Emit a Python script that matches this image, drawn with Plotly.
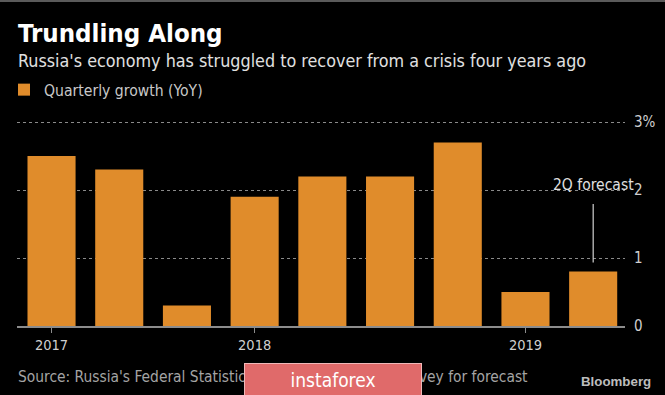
import plotly.graph_objects as go

quarters = ["2017 Q2", "2017 Q3", "2017 Q4", "2018 Q1", "2018 Q2",
            "2018 Q3", "2018 Q4", "2019 Q1", "2019 Q2"]
growth = [2.5, 2.3, 0.3, 1.9, 2.2, 2.2, 2.7, 0.5, 0.8]
year_tick_vals = ["2017 Q2", "2018 Q1", "2019 Q1"]
year_tick_text = ["2017", "2018", "2019"]
y_tick_vals = [0, 1, 2, 3]
y_tick_text = ["0", "1", "2", "3%"]

FONT = "Liberation Sans Narrow, DejaVu Sans Condensed, Roboto, sans-serif"
ORANGE = "#e08c2b"

W, H = 665, 395
ML, MR, MT, MB = 17, 40, 110, 69
PW, PH = W - ML - MR, H - MT - MB


def px(x):
    return (x - ML) / PW


def py(y):
    return (H - MB - y) / PH


fig = go.Figure()
fig.add_trace(go.Bar(
    x=quarters, y=growth, name="Quarterly growth (YoY)",
    marker=dict(color=ORANGE, line=dict(width=0)), width=0.71,
))

fig.update_layout(
    width=W, height=H,
    paper_bgcolor="#000000", plot_bgcolor="#000000",
    margin=dict(l=ML, r=MR, t=MT, b=MB, autoexpand=False),
    font=dict(family=FONT, color="#cfcfcf", size=13),
    showlegend=True,
    legend=dict(orientation="h", x=px(4), xanchor="left", y=py(90), yanchor="middle",
                font=dict(size=15.6, color="#c8c8c8"), bgcolor="rgba(0,0,0,0)",
                borderwidth=0),
    xaxis=dict(
        type="category", range=[-0.51, 8.47],
        tickmode="array", tickvals=year_tick_vals, ticktext=year_tick_text,
        ticks="outside", ticklen=5, tickcolor="#8c8c8c",
        showline=True, linecolor="#8c8c8c", linewidth=1.5,
        showgrid=False, tickfont=dict(size=14.5, color="#cfcfcf"),
    ),
    yaxis=dict(
        side="right", range=[0, PH / 68],
        tickmode="array", tickvals=y_tick_vals, ticktext=y_tick_text,
        showgrid=True, gridcolor="#8a8a8a", griddash="dot", gridwidth=1,
        zeroline=False, tickfont=dict(size=15, color="#cfcfcf"),
        ticklabelstandoff=8,
    ),
)

# title and subtitle
fig.add_annotation(text="<b>Trundling Along</b>", xref="paper", yref="paper",
                   x=px(16), y=py(33), xanchor="left", yanchor="middle",
                   showarrow=False,
                   font=dict(size=25.6, color="#ffffff", family=FONT))
fig.add_annotation(text="Russia's economy has struggled to recover from a crisis four years ago",
                   xref="paper", yref="paper", x=px(16), y=py(60),
                   xanchor="left", yanchor="middle", showarrow=False,
                   font=dict(size=17.8, color="#e0e0e0", family=FONT))

# forecast annotation
fig.add_annotation(text="2Q forecast", x="2019 Q2", y=0.8, ax=0, ay=-87,
                   xref="x", yref="y", axref="pixel", ayref="pixel",
                   showarrow=True, arrowhead=0, arrowwidth=1.2, arrowcolor="#d0d0d0",
                   standoff=9, startstandoff=9,
                   font=dict(size=15.5, color="#e0e0e0", family=FONT))

# footer
fig.add_annotation(text="Source: Russia's Federal Statistics Service, Bloomberg survey for forecast",
                   xref="paper", yref="paper", x=px(16), y=py(377),
                   xanchor="left", yanchor="middle", showarrow=False,
                   font=dict(size=15.4, color="#a4a4a4", family=FONT))
fig.add_annotation(text="<b>Bloomberg</b>", xref="paper", yref="paper",
                   x=px(653), y=py(381),
                   xanchor="right", yanchor="middle", showarrow=False,
                   font=dict(size=13.3, color="#bdbdbd", family="Liberation Sans, sans-serif"))

# watermark box (opaque, drawn above the source text)
fig.add_annotation(text="instaforex", xref="paper", yref="paper",
                   x=px(333), y=py(380),
                   xanchor="center", yanchor="middle", showarrow=False,
                   width=176, height=32, bgcolor="#e06a6a",
                   bordercolor="#f0b8b8", borderwidth=1, borderpad=0,
                   font=dict(size=19, color="#ffffff", family=FONT))

# top frame line
fig.add_shape(type="line", xref="paper", yref="paper", x0=px(0), x1=px(W),
              y0=py(1), y1=py(1), line=dict(color="#5a5a5a", width=2))

fig.write_html("out.html", config={"displayModeBar": False},
               post_script="document.body.style.margin='0';document.body.style.background='#000';")
